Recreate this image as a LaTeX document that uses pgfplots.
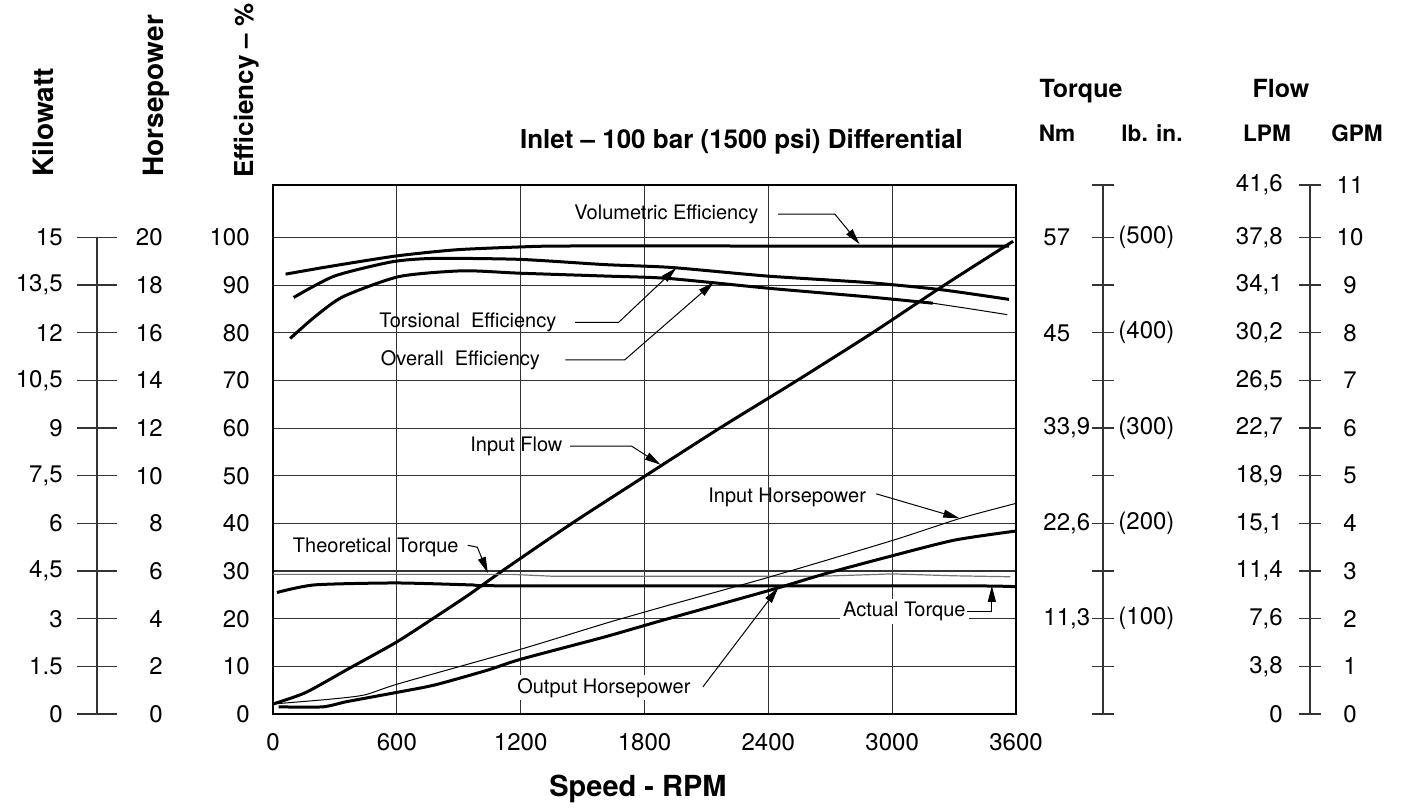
\documentclass[border=0pt]{standalone}
\usepackage{pgfplots}
\pgfplotsset{compat=1.18}
\usepackage{fontspec}
\setmainfont{TeX Gyre Heros}
\usetikzlibrary{arrows.meta}
\newcommand\tickfont{\fontsize{12}{14}\selectfont}
\newcommand\annfont{\fontsize{10}{12}\selectfont}
\newcommand\hdfont{\fontsize{12.5}{14}\selectfont\bfseries}
\newcommand\subfont{\fontsize{11.3}{13}\selectfont\bfseries}
\pgfplotsset{
  ruler/.style={scale only axis, width=1pt, anchor=south west, hide x axis, xmin=0, xmax=1, ymin=0,
     axis y line*=left, y axis line style={-, line width=0.6pt, black!80},
     tick align=center, major tick style={line width=0.6pt, black!80}, yticklabels={}},
  labcol/.style={scale only axis, width=1pt, anchor=south west, hide x axis, xmin=0, xmax=1, ymin=0,
     axis y line*=left, y axis line style={draw=none}, major tick length=0pt,
     yticklabel style={inner sep=0pt, font=\tickfont}},
  thick curve/.style={line width=1.5pt, black},
  thin curve/.style={line width=0.5pt, black},
}
\tikzset{lead/.style={line width=0.5pt, black, -{Triangle[length=8pt,width=4pt]}}}
\begin{document}
\begin{tikzpicture}
% ---------- left rulers ----------
\begin{axis}[ruler, at={(48.5pt,-357pt)}, height=238.3pt, ymax=100, ytick={0,10,...,100}, major tick length=20pt]
\addplot[draw=none] coordinates {(0,0)};
\end{axis}
\begin{axis}[labcol, at={(31.5pt,-357pt)}, height=238.3pt, ymax=100, ytick={0,10,...,100},
  yticklabels={0,1.5,3,{4,5},6,{7,5},9,{10,5},12,{13,5},15}, yticklabel style={anchor=east}]
\addplot[draw=none] coordinates {(0,0)};
\end{axis}
\begin{axis}[labcol, at={(81.5pt,-357pt)}, height=238.3pt, ymax=100, ytick={0,10,...,100},
  yticklabels={0,2,4,6,8,10,12,14,16,18,20}, yticklabel style={anchor=east}]
\addplot[draw=none] coordinates {(0,0)};
\end{axis}
\begin{axis}[labcol, at={(125pt,-357pt)}, height=238.3pt, ymax=100, ytick={0,10,...,100},
  yticklabels={0,10,20,30,40,50,60,70,80,90,100}, yticklabel style={anchor=east}]
\addplot[draw=none] coordinates {(0,0)};
\end{axis}
% ---------- right rulers ----------
\begin{axis}[ruler, at={(551.5pt,-357pt)}, height=264.5pt, ymax=111, ytick={0,10,...,100,111}, major tick length=11pt]
\addplot[draw=none] coordinates {(0,0)};
\end{axis}
\begin{axis}[labcol, at={(521.5pt,-357pt)}, height=264.5pt, ymax=111, ytick={20,40,60,80,100},
  yticklabels={{11,3},{22,6},{33,9},45,57}, yticklabel style={anchor=west}]
\addplot[draw=none] coordinates {(0,0)};
\end{axis}
\begin{axis}[labcol, at={(559pt,-357pt)}, height=264.5pt, ymax=111, ytick={20,40,60,80,100},
  yticklabels={(100),(200),(300),(400),(500)}, yticklabel style={anchor=west}]
\addplot[draw=none] coordinates {(0,0)};
\end{axis}
\begin{axis}[ruler, at={(655pt,-357pt)}, height=264.5pt, ymax=111, ytick={0,10,...,100,111}, major tick length=11pt]
\addplot[draw=none] coordinates {(0,0)};
\end{axis}
\begin{axis}[labcol, at={(641.5pt,-357pt)}, height=264.5pt, ymax=111, ytick={0,10,...,100,111},
  yticklabels={0,{3,8},{7,6},{11,4},{15,1},{18,9},{22,7},{26,5},{30,2},{34,1},{37,8},{41,6}}, yticklabel style={anchor=east}]
\addplot[draw=none] coordinates {(0,0)};
\end{axis}
\begin{axis}[labcol, at={(675pt,-357pt)}, height=264.5pt, ymax=111, ytick={0,10,...,100,111},
  yticklabels={0,1,2,3,4,5,6,7,8,9,10,11}, yticklabel style={anchor=center}]
\addplot[draw=none] coordinates {(0,0)};
\end{axis}
% ---------- main axis ----------
\begin{axis}[at={(136.5pt,-357pt)}, anchor=south west, scale only axis,
  width=371.5pt, height=264.5pt, xmin=0, xmax=3600, ymin=0, ymax=111,
  xtick={0,600,...,3600}, xticklabels={0,600,1200,1800,2400,3000,3600},
  ytick={0,10,...,100}, yticklabels={},
  grid=major, major grid style={black!80, line width=0.55pt},
  major tick length=0pt, axis line style={line width=0.8pt, black},
  xticklabel style={anchor=north, inner sep=0pt, yshift=-9.5pt, font=\tickfont},
  clip=false]
% Volumetric efficiency
\addplot[thick curve, smooth, tension=0.4] coordinates {(61,92.3) (273,93.9) (595,96.1) (885,97.4) (1195,98.0) (1416,98.2) (2450,98.2) (3567,98.2)};
% Torsional efficiency
\addplot[thick curve, smooth, tension=0.4] coordinates {(100,87.4) (298,91.9) (578,94.9) (784,95.6) (1193,95.4) (1608,94.3) (1930,93.7) (2393,91.9) (2892,90.5) (3243,89.0) (3566,87.0)};
% Overall efficiency
\addplot[thick curve, smooth, tension=0.4] coordinates {(83,78.8) (204,83.4) (341,87.6) (612,91.8) (920,93.0) (1193,92.5) (1609,91.9) (1914,91.4) (2410,89.3) (2892,87.5) (3197,86.2)};
\addplot[thin curve] coordinates {(3197,86.2) (3367,85.1) (3558,83.8)};
% Input flow
\addplot[thick curve, smooth, tension=0.4] coordinates {(0,2.1) (158,4.5) (366,9.5) (595,15.0) (774,20) (948,25) (1110,30) (1448,40) (1805,50) (2165,60) (2540,70) (2905,80) (3253,90) (3586,99.2)};
% Theoretical torque
\addplot[line width=0.6pt, black!55] coordinates {(0,29.3) (1159,29.3) (1360,28.9) (2648,28.9) (3000,29.4) (3303,29.0) (3573,28.8)};
% Actual torque
\addplot[thick curve, smooth, tension=0.4] coordinates {(19,25.5) (203,27.1) (595,27.5) (954,27.1) (1159,26.9) (3303,26.9) (3600,26.7)};
% Input horsepower
\addplot[thin curve, smooth, tension=0.4] coordinates {(0,2.1) (273,3.1) (443,4.0) (612,6.4) (1201,13.6) (1609,19.0) (1882,22.4) (2410,28.8) (3000,36.4) (3333,41.1) (3600,44.2)};
% Output horsepower
\addplot[thick curve, smooth, tension=0.4] coordinates {(27,1.5) (240,1.5) (358,2.6) (595,4.5) (784,6.1) (1039,9.2) (1201,11.5) (1609,16.2) (1882,19.6) (2410,26.0) (2681,29.5) (3000,33.2) (3303,36.5) (3600,38.4)};
% ---------- annotations ----------
\node[font=\annfont, anchor=mid] at (axis cs:1906,104.9) {Volumetric Efficiency};
\draw[lead] (axis cs:2448,104.9) -- (axis cs:2722,104.9) -- (axis cs:2842,98.6);
\node[font=\annfont, anchor=mid] at (axis cs:944,82.2) {Torsional\ \ Efficiency};
\draw[lead] (axis cs:1464,82.2) -- (axis cs:1675,82.2) -- (axis cs:1954,93.6);
\node[font=\annfont, anchor=mid] at (axis cs:908,74.3) {Overall\ \ Efficiency};
\draw[lead] (axis cs:1416,74.3) -- (axis cs:1704,74.3) -- (axis cs:2136,90.6);
\node[font=\annfont, anchor=mid] at (axis cs:1179,56.2) {Input Flow};
\draw[lead] (axis cs:1440,56.2) -- (axis cs:1738,56.2) -- (axis cs:1878,52.3);
\node[font=\annfont, anchor=mid] at (axis cs:498,35.0) {Theoretical Torque};
\draw[lead] (axis cs:944,35.4) -- (axis cs:990,35.0) -- (axis cs:1041,29.6);
\node[font=\annfont, anchor=mid] at (axis cs:2491,45.5) {Input Horsepower};
\draw[lead] (axis cs:2923,46.2) -- (axis cs:3325,41.1);
\node[font=\annfont, anchor=mid, fill=white, inner sep=1.5pt] at (axis cs:3059,21.6) {Actual Torque};
\draw[lead] (axis cs:3361,21.6) -- (axis cs:3483,21.6) -- (axis cs:3483,26.9);
\node[font=\annfont, anchor=mid, fill=white, inner sep=1.5pt] at (axis cs:1603,5.5) {Output Horsepower};
\draw[lead] (axis cs:2083,5.7) -- (axis cs:2448,26.5);
\end{axis}
% ---------- titles ----------
\node[font=\fontsize{14}{16}\selectfont\bfseries, rotate=90, anchor=base west, inner sep=0pt] at (27pt,-88.5pt) {Kilowatt};
\node[font=\fontsize{14}{16}\selectfont\bfseries, rotate=90, anchor=base west, inner sep=0pt] at (81.5pt,-88.5pt) {Horsepower};
\node[font=\fontsize{13}{16}\selectfont\bfseries, rotate=90, anchor=base west, inner sep=0pt] at (126.5pt,-89pt) {Efficiency -- \%};
\node[font=\hdfont, anchor=base] at (540.5pt,-48.5pt) {Torque};
\node[font=\hdfont, anchor=base] at (640.5pt,-48.5pt) {Flow};
\node[font=\subfont, anchor=base] at (528.5pt,-70.5pt) {Nm};
\node[font=\subfont, anchor=base] at (576pt,-70.5pt) {lb. in.};
\node[font=\subfont, anchor=base] at (633.5pt,-70.5pt) {LPM};
\node[font=\subfont, anchor=base] at (678.5pt,-70.5pt) {GPM};
\node[font=\fontsize{13}{15}\selectfont\bfseries, anchor=base] at (370.75pt,-74pt) {Inlet -- 100 bar (1500 psi) Differential};
\node[font=\fontsize{14.5}{17}\selectfont\bfseries, anchor=base] at (319pt,-398pt) {Speed - RPM};
\pgfresetboundingbox
\useasboundingbox (0,0) rectangle (700.5pt,-405pt);
\end{tikzpicture}
\end{document}
